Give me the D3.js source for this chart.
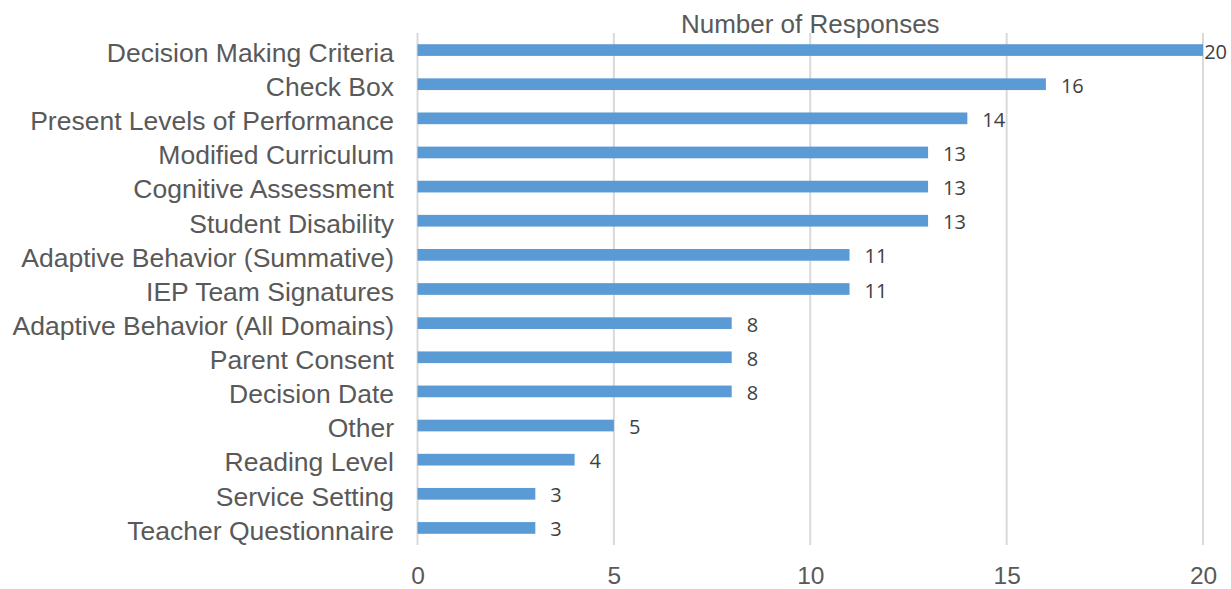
<!DOCTYPE html>
<html>
<head>
<meta charset="utf-8">
<script src="https://cdn.jsdelivr.net/npm/d3@7"></script>
<style>
html,body{margin:0;padding:0;background:#fff;}
svg{display:block;}
</style>
</head>
<body>
<svg id="chart" width="1231" height="589"></svg>
<script>
const categories = [
  "Decision Making Criteria",
  "Check Box",
  "Present Levels of Performance",
  "Modified Curriculum",
  "Cognitive Assessment",
  "Student Disability",
  "Adaptive Behavior (Summative)",
  "IEP Team Signatures",
  "Adaptive Behavior (All Domains)",
  "Parent Consent",
  "Decision Date",
  "Other",
  "Reading Level",
  "Service Setting",
  "Teacher Questionnaire"
];
const values = [20, 16, 14, 13, 13, 13, 11, 11, 8, 8, 8, 5, 4, 3, 3];
const xTicks = [0, 5, 10, 15, 20];
const chartTitle = "Number of Responses";

const W = 1231, H = 589;
const plot = {left: 417.5, right: 1203, top: 33, bottom: 545};
const svg = d3.select("#chart");

const x = d3.scaleLinear().domain([0, 20]).range([plot.left, plot.right]);
const y = d3.scaleBand().domain(categories).range([plot.top, plot.bottom])
  .paddingInner(0.657).paddingOuter(0.3285);

// gridlines
svg.append("g").selectAll("line").data(xTicks).join("line")
  .attr("x1", d => x(d)).attr("x2", d => x(d))
  .attr("y1", plot.top).attr("y2", plot.bottom)
  .attr("stroke", "#D9D9D9").attr("stroke-width", 2);

// title
svg.append("text")
  .attr("x", (plot.left + plot.right) / 2).attr("y", 33)
  .attr("text-anchor", "middle")
  .attr("font-family", "Liberation Sans, Arial, sans-serif")
  .attr("font-size", 26).attr("fill", "#595959")
  .text(chartTitle);

// bars
const data = categories.map((c, i) => ({c, v: values[i]}));
svg.append("g").selectAll("rect").data(data).join("rect")
  .attr("x", x(0)).attr("y", d => y(d.c))
  .attr("width", d => x(d.v) - x(0)).attr("height", y.bandwidth())
  .attr("fill", "#5B9BD5");

// category labels
const yAxis = d3.axisLeft(y).tickSize(0).tickPadding(0);
const yg = svg.append("g").attr("transform", "translate(394,0)").call(yAxis);
yg.select(".domain").remove();
yg.selectAll("text")
  .attr("font-family", "Liberation Sans, Arial, sans-serif")
  .attr("font-size", 26.5).attr("fill", "#595959")
  .attr("dy", null).attr("dominant-baseline", null)
  .attr("y", 11.8);

// x axis tick labels
const xAxis = d3.axisBottom(x).tickValues(xTicks).tickSize(0).tickPadding(0);
const xg = svg.append("g").attr("transform", "translate(0,0)").call(xAxis);
xg.select(".domain").remove();
xg.selectAll("text")
  .attr("font-family", "Liberation Sans, Arial, sans-serif")
  .attr("font-size", 24.5).attr("fill", "#595959")
  .attr("dy", null).attr("y", 584);

// value labels
svg.append("g").selectAll("text").data(data).join("text")
  .attr("x", d => x(d.v) + 15)
  .attr("y", d => y(d.c) + y.bandwidth() / 2 + 8.5)
  .attr("font-family", "Open Sans, sans-serif")
  .attr("font-size", 20).attr("fill", "#404040")
  .text(d => d.v)
  .each(function() {
    const w = this.getComputedTextLength();
    const cx = +this.getAttribute("x");
    if (cx + w > W - 4) this.setAttribute("x", W - 4 - w);
  });
</script>
</body>
</html>
